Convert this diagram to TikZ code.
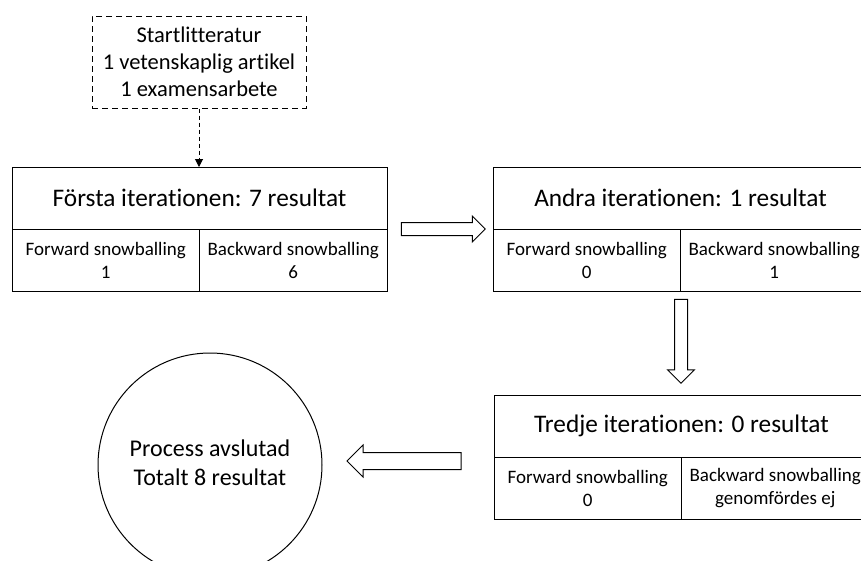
\documentclass[tikz,border=0pt]{standalone}
\usepackage{fontspec}
\setmainfont{Carlito}[Ligatures=NoCommon]
\usetikzlibrary{arrows.meta,calc,positioning,shapes.arrows}

\tikzset{
  itertitle/.style={draw, line width=1pt, outer sep=0pt, inner sep=0pt,
    minimum width=375pt, minimum height=62pt,
    font=\fontsize{25.3}{30}\selectfont},
  cell/.style={draw, line width=1pt, outer sep=0pt, inner sep=0pt,
    minimum width=187.5pt, minimum height=62pt, align=center,
    font=\fontsize{19}{23}\selectfont},
  startbox/.style={draw, dashed, dash pattern=on 6pt off 4pt, line width=1pt,
    minimum width=214pt, minimum height=92pt, inner sep=0pt, align=center,
    font=\fontsize{22.5}{27}\selectfont},
  hollow/.style={single arrow, draw, line width=1pt, inner sep=0pt,
    text height=12pt, text depth=0pt, single arrow head extend=6.5pt,
    minimum height=84pt},
}

\begin{document}
\begin{tikzpicture}[x=1pt,y=-1pt]

  \useasboundingbox (0,0) rectangle (861,560);
  \clip (0,0) rectangle (861,560);

  % start literature
  \node[startbox] (start) at (199,62) {Startlitteratur\\1 vetenskaplig artikel\\1 examensarbete};

  % first iteration
  \node[itertitle] (iter1) at (199.5,198) {Första iterationen: 7 resultat};
  \node[cell, below right=0pt of iter1.south west] (fwd1) {Forward snowballing\\1};
  \node[cell, below left=0pt of iter1.south east] (bwd1) {Backward snowballing\\6};

  % second iteration
  \node[itertitle] (iter2) at (680.5,198) {Andra iterationen: 1 resultat};
  \node[cell, below right=0pt of iter2.south west] (fwd2) {Forward snowballing\\0};
  \node[cell, below left=0pt of iter2.south east] (bwd2) {Backward snowballing\\1};

  % third iteration
  \node[itertitle] (iter3) at (681.5,426) {Tredje iterationen: 0 resultat};
  \node[cell, below right=0pt of iter3.south west] (fwd3) {Forward snowballing\\0};
  \node[cell, below left=0pt of iter3.south east] (bwd3) {Backward snowballing\\genomfördes ej};

  % end of process
  \node[circle, draw, line width=1pt, minimum size=224pt, align=center,
    font=\fontsize{24}{29}\selectfont] (done) at (210,465)
    {\raisebox{5pt}{\begin{tabular}{@{}c@{}}Process avslutad\\Totalt 8 resultat\end{tabular}}};

  % connectors
  \draw[dashed, dash pattern=on 4pt off 3pt, line width=1pt, -{Triangle[length=8pt,width=8pt]}]
    (start.south) -- (start.south |- iter1.north);

  \node[hollow] (a12) at ($(iter1.south east)!0.5!(iter2.south west)$) {};
  \node[hollow, rotate=-90, single arrow head extend=7pt] (a23)
    at ($(fwd2.south east)!0.5!(iter3.north)$) [xshift=-5pt] {};
  \node[hollow, rotate=180, text height=16pt, single arrow head extend=7.5pt,
    minimum height=114pt] (a3e) at ($(done.east)!0.5!(iter3.south west)$) {};

\end{tikzpicture}
\end{document}
